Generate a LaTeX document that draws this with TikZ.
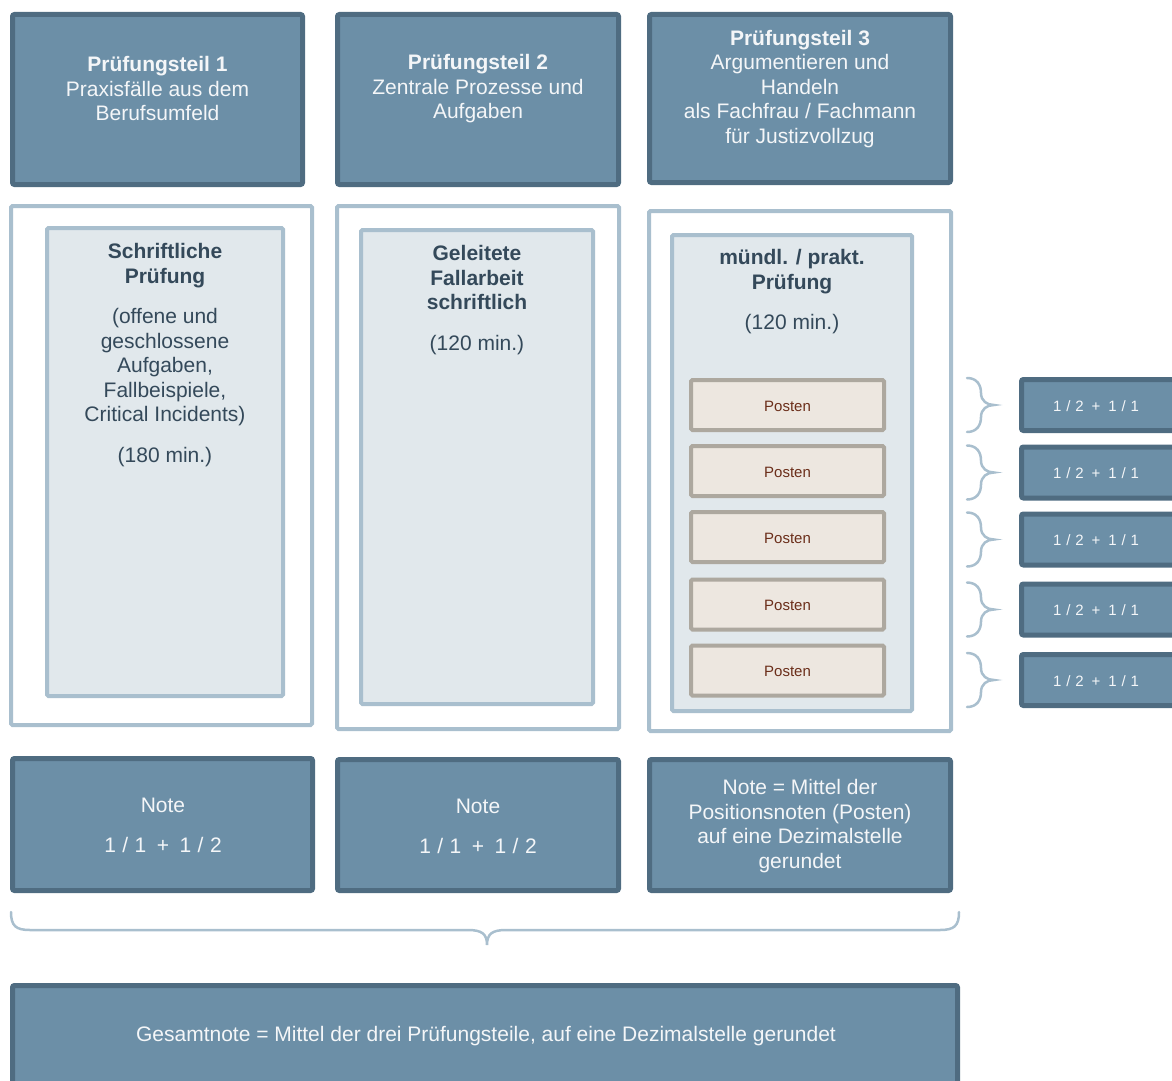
\documentclass[tikz,border=0pt]{standalone}
\usepackage{fontspec}
\setmainfont{Liberation Sans}
\newfontfamily\gradefont[LetterSpace=5]{Liberation Sans}
\newfontfamily\notefont[LetterSpace=3]{Liberation Sans}
\definecolor{dkfill}{HTML}{6C8FA7}
\definecolor{dkline}{HTML}{4F6C81}
\definecolor{ltline}{HTML}{A9BFCE}
\definecolor{ltfill}{HTML}{E1E8EC}
\definecolor{pfill}{HTML}{EDE7E0}
\definecolor{pline}{HTML}{ADA89F}
\definecolor{ptext}{HTML}{6B2E1A}
\definecolor{dtext}{HTML}{34495A}
\definecolor{wtext}{HTML}{F4F6F8}
\tikzset{
  darkbox/.style={draw=dkline, fill=dkfill, line width=5pt, rounded corners=2pt, inner sep=0pt},
  framebox/.style={draw=ltline, fill=white, line width=4pt, rounded corners=1.5pt, inner sep=0pt},
  innerbox/.style={draw=ltline, fill=ltfill, line width=4pt, rounded corners=1.5pt, inner sep=0pt},
  postenbox/.style={draw=pline, fill=pfill, line width=4pt, rounded corners=1.5pt, inner sep=0pt},
  bigtxt/.style={inner sep=0pt, align=center, font=\fontsize{21}{24.5}\selectfont},
  whitetxt/.style={bigtxt, text=wtext},
  darktxt/.style={bigtxt, text=dtext},
  postentxt/.style={inner sep=0pt, text=ptext, font=\fontsize{15}{18}\selectfont},
  gradetxt/.style={inner sep=0pt, text=wtext, font=\gradefont\fontsize{15}{18}\selectfont},
  bracestyle/.style={draw=ltline, line width=2.5pt, line cap=round},
}
\begin{document}
\begin{tikzpicture}[x=1pt, y=-1pt]
\useasboundingbox (0,0) rectangle (1172,1081);
\clip (0,0) rectangle (1172,1081);

% top row
\node[darkbox, minimum width=290pt, minimum height=170pt] (top1) at (157.5,99.5) {};
\node[darkbox, minimum width=281pt, minimum height=170pt] (top2) at (478,99.5) {};
\node[darkbox, minimum width=301pt, minimum height=168pt] (top3) at (800,98.5) {};
\node[whitetxt] (t1) at (157.5,88.5) {\textbf{Prüfungsteil 1}\\Praxisfälle aus dem\\Berufsumfeld};
\node[whitetxt] (t2) at (478,89) {\textbf{Prüfungsteil 2}\\Zentrale Prozesse und\\Aufgaben};
\node[whitetxt] (t3) at (800,89) {\textbf{Prüfungsteil 3}\\Argumentieren und\\Handeln\\als Fachfrau / Fachmann\\für Justizvollzug};

% frames
\node[framebox, minimum width=301pt, minimum height=519pt] (f1) at (161.5,465.5) {};
\node[framebox, minimum width=282pt, minimum height=523pt] (f2) at (478,467.5) {};
\node[framebox, minimum width=302pt, minimum height=520pt] (f3) at (800,471) {};
\node[innerbox, minimum width=236pt, minimum height=468pt] (i1) at (165,462) {};
\node[innerbox, minimum width=232pt, minimum height=474pt] (i2) at (477,467) {};
\node[innerbox, minimum width=240pt, minimum height=476pt] (i3) at (792,473) {};

\node[darktxt, anchor=north] (it1) at (165,243.5) {\textbf{Schriftliche}\\\textbf{Prüfung}\\[16pt](offene und\\geschlossene\\Aufgaben,\\Fallbeispiele,\\Critical Incidents)\\[16pt](180 min.)};
\node[darktxt, anchor=north] (it2) at (477,245.5) {\textbf{Geleitete}\\\textbf{Fallarbeit}\\\textbf{schriftlich}\\[16pt](120 min.)};
\node[darktxt, anchor=north] (it3) at (792,249.5) {\textbf{mündl. / prakt.}\\\textbf{Prüfung}\\[16pt](120 min.)};

% Posten and grades
\foreach \i/\py/\gy in {1/405/405, 2/471/472.5, 3/537/539.5, 4/604.5/609.5, 5/670.5/680} {
  \node[postenbox, minimum width=193pt, minimum height=50pt] (p\i) at (787.5,\py) {};
  \node[postentxt] (pt\i) at (787.5,\py+1) {Posten};
  \node[darkbox, minimum width=156pt, minimum height=51pt] (g\i) at (1099.5,\gy) {};
  \node[gradetxt] (gt\i) at (1096,\gy+1) {1 / 2\hspace{3pt} + \hspace{3pt}1 / 1};
  \draw[bracestyle] (967,\gy-27) .. controls (977,\gy-27) and (981,\gy-20) .. (981,\gy-12)
     .. controls (981,\gy-4) and (987,\gy) .. (994,\gy)
     .. controls (987,\gy) and (981,\gy+4) .. (981,\gy+12)
     .. controls (981,\gy+20) and (977,\gy+27) .. (967,\gy+27);
}

% bottom notes
\node[darkbox, minimum width=300pt, minimum height=132pt] (b1) at (162.5,824.5) {};
\node[darkbox, minimum width=281pt, minimum height=131pt] (b2) at (478,825) {};
\node[darkbox, minimum width=301pt, minimum height=131pt] (b3) at (800,825) {};
\node[whitetxt] (bt1) at (163,825.5) {Note\\[15.5pt]{\notefont 1 / 1\hspace{4pt} + \hspace{4pt}1 / 2}};
\node[whitetxt] (bt2) at (478,826) {Note\\[15.5pt]{\notefont 1 / 1\hspace{4pt} + \hspace{4pt}1 / 2}};
\node[whitetxt] (bt3) at (800,826) {Note = Mittel der\\Positionsnoten (Posten)\\auf eine Dezimalstelle\\gerundet};

% big brace
\draw[bracestyle] (11,912) .. controls (11,926) and (16,930) .. (30,930) -- (468,930)
   .. controls (482,930) and (487,934) .. (487,945)
   .. controls (487,934) and (492,930) .. (506,930) -- (940,930)
   .. controls (954,930) and (959,926) .. (959,912);

% total
\node[darkbox, minimum width=945pt, minimum height=102pt] (tot) at (485,1036.5) {};
\node[whitetxt] (tott) at (486,1036) {Gesamtnote = Mittel der drei Prüfungsteile, auf eine Dezimalstelle gerundet};
\end{tikzpicture}
\end{document}
